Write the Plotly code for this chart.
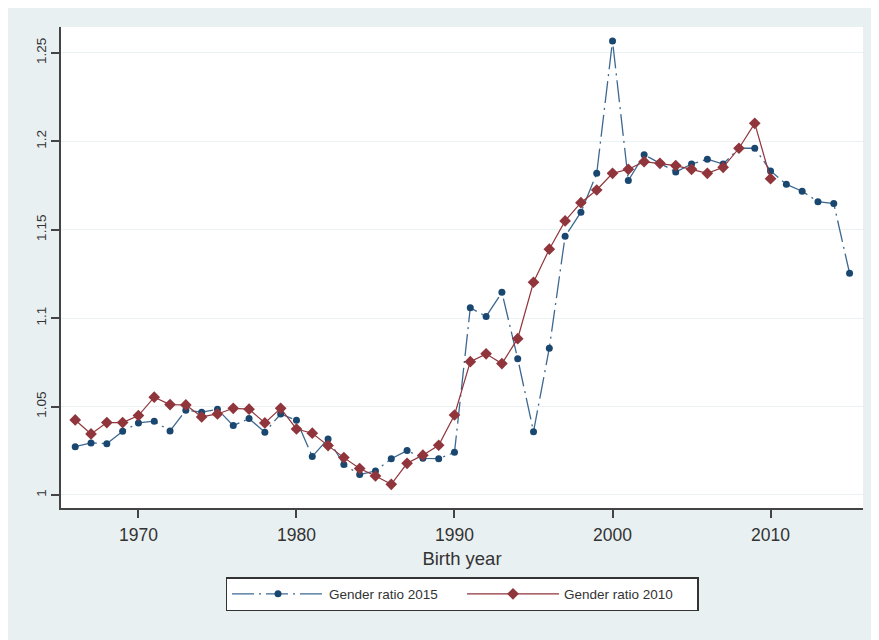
import plotly.graph_objects as go

# ---- data ----
years_2015 = list(range(1966, 2016))
ratio_2015 = [1.0273, 1.0294, 1.0290, 1.0360, 1.0407, 1.0417, 1.0362, 1.0479, 1.0468, 1.0485,
              1.0392, 1.0432, 1.0355, 1.0458, 1.0422, 1.0217, 1.0317, 1.0172, 1.0115, 1.0136,
              1.0205, 1.0251, 1.0207, 1.0205, 1.0241, 1.1059, 1.1009, 1.1146, 1.0771, 1.0358,
              1.0830, 1.1463, 1.1599, 1.1819, 1.2568, 1.1778, 1.1925, 1.1876, 1.1827, 1.1872,
              1.1899, 1.1872, 1.1961, 1.1961, 1.1833, 1.1757, 1.1718, 1.1659, 1.1648, 1.1254]

years_2010 = list(range(1966, 2011))
ratio_2010 = [1.0424, 1.0345, 1.0409, 1.0409, 1.0449, 1.0553, 1.0511, 1.0509, 1.0441, 1.0458,
              1.0490, 1.0485, 1.0407, 1.0490, 1.0373, 1.0349, 1.0279, 1.0211, 1.0149, 1.0107,
              1.0060, 1.0179, 1.0225, 1.0281, 1.0452, 1.0754, 1.0798, 1.0743, 1.0884, 1.1203,
              1.1390, 1.1550, 1.1653, 1.1725, 1.1819, 1.1842, 1.1885, 1.1876, 1.1863, 1.1842,
              1.1819, 1.1853, 1.1961, 1.2102, 1.1789]

x_ticks = [1970, 1980, 1990, 2000, 2010]
y_ticks = [1.0, 1.05, 1.1, 1.15, 1.2, 1.25]
y_tick_labels = ["1", "1.05", "1.1", "1.15", "1.2", "1.25"]

NAVY = "#1a476f"
MAROON = "#90353b"
BG = "#e9f0f2"
FONT = "Liberation Sans, Arial, sans-serif"

fig = go.Figure()
fig.add_trace(go.Scatter(
    x=years_2015, y=ratio_2015, mode="lines+markers", name="Gender ratio 2015",
    line=dict(color="#3d6890", width=1.3, dash="22px,5px,2px,5px"),
    marker=dict(symbol="circle", size=7, color=NAVY),
))
fig.add_trace(go.Scatter(
    x=years_2010, y=ratio_2010, mode="lines+markers", name="Gender ratio 2010",
    line=dict(color=MAROON, width=1.2),
    marker=dict(symbol="diamond", size=9, color=MAROON),
))

fig.update_layout(
    width=871, height=632,
    margin=dict(l=53, r=16, t=19, b=132),
    paper_bgcolor=BG, plot_bgcolor="white",
    font=dict(family=FONT, color="#333333"),
    showlegend=True,
    legend=dict(
        orientation="h", x=0.5, xanchor="center", y=-0.1435, yanchor="top",
        bgcolor="white", bordercolor="#333333", borderwidth=1.5,
        font=dict(size=13.5, color="#333333", family=FONT),
        itemwidth=92, entrywidth=128,
    ),
)

fig.update_xaxes(
    range=[1965.1, 2015.85], tickvals=x_ticks, ticks="outside", ticklen=8, tickwidth=1.5,
    tickcolor="#444444", showline=True, linecolor="#444444", linewidth=1.5, showgrid=False,
    zeroline=False, tickfont=dict(size=17.5, color="#333333"), ticklabelstandoff=2,
    title=dict(text="Birth year", font=dict(size=18.5, color="#333333"), standoff=8),
)
fig.update_yaxes(
    range=[0.9926, 1.2647], tickvals=y_ticks, ticktext=y_tick_labels, tickangle=-90,
    ticks="outside", ticklen=8, tickwidth=1.5, tickcolor="#444444",
    showline=True, linecolor="#444444", linewidth=1.5,
    showgrid=True, gridcolor="#eaf2f3", gridwidth=1.2, zeroline=False,
    tickfont=dict(size=13.5, color="#333333"),
)

fig.write_html("out.html")
